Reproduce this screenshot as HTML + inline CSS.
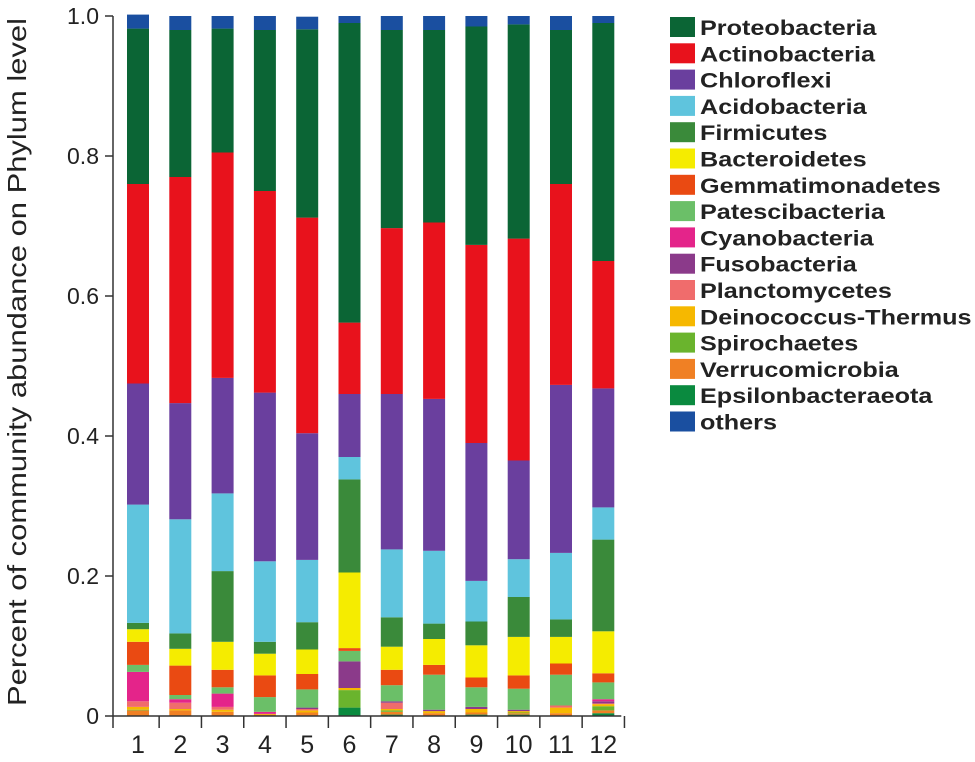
<!DOCTYPE html>
<html><head><meta charset="utf-8"><style>
body{margin:0;background:#fff;width:975px;height:757px;overflow:hidden}
svg text{font-family:"Liberation Sans",Arial,sans-serif}
</style></head><body>
<svg id="chart" width="975" height="757" viewBox="0 0 975 757"></svg>
<script>
const categories=["1","2","3","4","5","6","7","8","9","10","11","12"];
const phyla=["Proteobacteria","Actinobacteria","Chloroflexi","Acidobacteria","Firmicutes","Bacteroidetes","Gemmatimonadetes","Patescibacteria","Cyanobacteria","Fusobacteria","Planctomycetes","Deinococcus-Thermus","Spirochaetes","Verrucomicrobia","Epsilonbacteraeota","others"];
const colors=["#0b6535","#e8121c","#6a3f9e","#5fc4dd","#3a8a3a","#f5ec00","#ea4a12","#6bbf68","#e4248a","#8b3a8a","#f06c6c","#f6b800","#6ab42d","#f08024","#0a8a3f","#1a4fa0"];
const Proteobacteria=[0.222,0.21,0.177,0.23,0.269,0.428,0.283,0.275,0.312,0.306,0.22,0.34];
const Actinobacteria=[0.285,0.323,0.322,0.288,0.308,0.102,0.237,0.252,0.283,0.317,0.287,0.182];
const Chloroflexi=[0.173,0.166,0.165,0.241,0.181,0.09,0.222,0.217,0.197,0.141,0.24,0.17];
const Acidobacteria=[0.169,0.163,0.111,0.115,0.089,0.032,0.097,0.104,0.058,0.054,0.095,0.046];
const Firmicutes=[0.009,0.022,0.101,0.017,0.039,0.133,0.042,0.022,0.034,0.057,0.025,0.131];
const Bacteroidetes=[0.018,0.024,0.04,0.031,0.035,0.108,0.033,0.037,0.046,0.055,0.038,0.06];
const Gemmatimonadetes=[0.033,0.042,0.025,0.031,0.022,0.004,0.022,0.014,0.014,0.019,0.016,0.013];
const Patescibacteria=[0.01,0.006,0.009,0.021,0.026,0.015,0.023,0.05,0.028,0.03,0.044,0.024];
const Cyanobacteria=[0.042,0.005,0.019,0.003,0,0,0,0,0,0,0,0.003];
const Fusobacteria=[0,0,0,0,0.002,0.038,0.002,0.002,0.003,0.002,0,0.003];
const Planctomycetes=[0.008,0.009,0.004,0,0.002,0,0.009,0,0,0,0.003,0.001];
const Deinococcus=[0.004,0.002,0.003,0.001,0.003,0.003,0.002,0.003,0.005,0.002,0.008,0.003];
const Spirochaetes=[0.001,0,0,0,0,0.025,0.002,0,0,0.001,0,0.006];
const Verrucomicrobia=[0.008,0.008,0.006,0.002,0.005,0,0.004,0.004,0.003,0.002,0.004,0.004];
const Epsilonbacteraeota=[0,0,0,0,0,0.012,0.002,0,0.002,0.002,0,0.004];
const others=[0.02,0.02,0.018,0.02,0.018,0.01,0.02,0.02,0.015,0.012,0.02,0.01];
const yTicks=["0","0.2","0.4","0.6","0.8","1.0"];
const yTickVals=[0,0.2,0.4,0.6,0.8,1.0];
const series=[Proteobacteria,Actinobacteria,Chloroflexi,Acidobacteria,Firmicutes,Bacteroidetes,Gemmatimonadetes,Patescibacteria,Cyanobacteria,Fusobacteria,Planctomycetes,Deinococcus,Spirochaetes,Verrucomicrobia,Epsilonbacteraeota,others];

const NS="http://www.w3.org/2000/svg";
const svg=document.getElementById('chart');
function mk(t,a,p){const e=document.createElementNS(NS,t);for(const k in a)e.setAttribute(k,a[k]);(p||svg).appendChild(e);return e;}
const y0=716,yH=700,xL=113,step=42.3,bw=22,x0=127;
const yS=v=>y0-v*yH;
const xS=i=>x0+i*step;
// stacking order bottom-up: Epsilon ... Proteobacteria, then others on top
const stackOrder=[14,13,12,11,10,9,8,7,6,5,4,3,2,1,0,15];

categories.forEach((c,i)=>{
  const g=mk('g',{});
  
  
  let cum=0;
  stackOrder.forEach(s=>{
    const v=series[s][i];
    if(v<=0)return;
    const r=mk('rect',{x:xS(i),y:yS(cum+v),width:bw,height:v*yH,fill:colors[s]},g);
    
    
    cum+=v;
  });
});

const ya=mk('g',{});


mk('line',{x1:xL,y1:yS(1),x2:xL,y2:y0,stroke:'#333','stroke-width':1.5},ya);
yTickVals.forEach((v,k)=>{
  mk('line',{x1:xL-8,y1:yS(v),x2:xL,y2:yS(v),stroke:'#333','stroke-width':1.5},ya);
  const t=mk('text',{x:xL-14,y:yS(v)+8,'text-anchor':'end','font-size':23,fill:'#222'},ya);
  
  
  t.textContent=yTicks[k];
});
const yt=mk('text',{x:0,y:0,'text-anchor':'middle','font-size':26,fill:'#222',transform:'translate(26,362) rotate(-90)',textLength:688,lengthAdjust:'spacingAndGlyphs'});


yt.textContent='Percent of community abundance on Phylum level';

const xa=mk('g',{});


mk('line',{x1:xL,y1:y0,x2:xS(11)+bw+7,y2:y0,stroke:'#333','stroke-width':1.5},xa);
mk('line',{x1:xL,y1:y0,x2:xL,y2:y0+12,stroke:'#333','stroke-width':1.5},xa);
categories.forEach((c,i)=>{
  const tx=xS(i)+bw+(step-bw)/2;
  mk('line',{x1:tx,y1:y0,x2:tx,y2:y0+12,stroke:'#333','stroke-width':1.5},xa);
  const t=mk('text',{x:xS(i)+bw/2,y:753,'text-anchor':'middle','font-size':25,fill:'#222'},xa);
  
  
  t.textContent=c;
});

const lg=mk('g',{});


phyla.forEach((p,k)=>{
  const cy=27+k*26.3;
  const e=mk('g',{},lg);
  
  
  mk('rect',{x:670,y:cy-10,width:25,height:20,fill:colors[k]},e);
  const t=mk('text',{x:0,y:0,'font-size':21,'font-weight':'bold',fill:'#222',transform:'translate(700,'+(cy+8)+') scale(1.2,1)'},e);
  t.textContent=p;
});
</script>
</body></html>
